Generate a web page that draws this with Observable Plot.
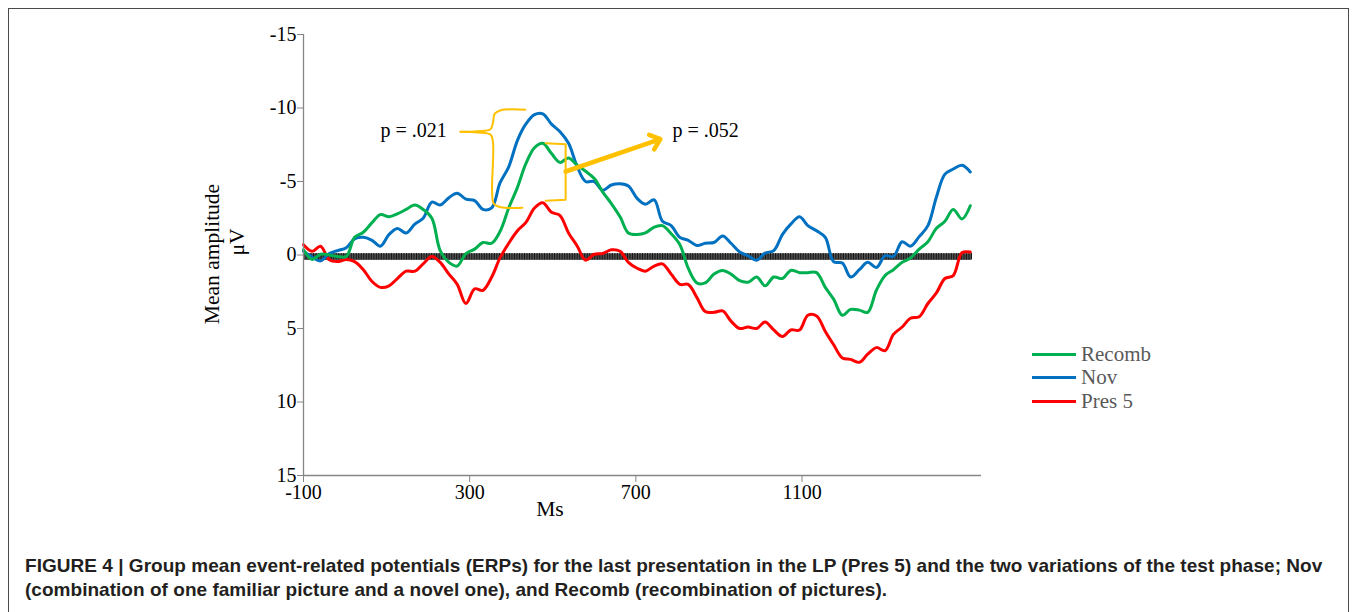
<!DOCTYPE html>
<html>
<head>
<meta charset="utf-8">
<script src="https://cdn.jsdelivr.net/npm/d3@7"></script>
<script src="https://cdn.jsdelivr.net/npm/@observablehq/plot@0.6"></script>
<style>
  html, body { margin: 0; padding: 0; background: #fff; }
  body { width: 1358px; height: 612px; overflow: hidden; position: relative; }
  #frame { position: absolute; left: 8px; top: 8px; width: 1341px; height: 640px; border: 1px solid #4a4a4a; box-sizing: border-box; }
  #chart { position: absolute; left: 0; top: 0; }
  .serif { font-family: "Liberation Serif", "Times New Roman", serif; color: #000; }
  .ylab { position: absolute; white-space: nowrap; font-size: 21.5px; transform: translate(-50%, -50%) rotate(-90deg); }
  #xlab { position: absolute; left: 550px; top: 509px; transform: translate(-50%, -50%); font-size: 21.5px; }
  #legend { position: absolute; left: 1032px; top: 343px; font-family: "Liberation Serif", serif; font-size: 21px; color: #595959; }
  .li { display: flex; align-items: center; height: 23.3px; }
  .sw { width: 44px; height: 3px; margin-right: 5px; }
  #caption { position: absolute; left: 25px; top: 554px; width: 1330px; white-space: nowrap; font-family: "Liberation Sans", Arial, sans-serif; font-weight: bold; font-size: 19px; letter-spacing: 0.03px; line-height: 24px; color: #231f20; }
</style>
</head>
<body>
<div id="frame"></div>
<div id="chart"></div>
<div class="serif ylab" style="left:212px; top:254px;">Mean amplitude</div>
<div class="serif ylab" style="left:237px; top:242px;">μV</div>
<div class="serif" id="xlab">Ms</div>
<div id="legend"></div>
<div id="caption">FIGURE 4 | Group mean event-related potentials (ERPs) for the last presentation in the LP (Pres 5) and the two variations of the test phase; Nov<br>(combination of one familiar picture and a novel one), and Recomb (recombination of pictures).</div>
<script>
// ---- data ----
const times = [-100,-79,-59,-38,-18,3,23,44,65,85,106,126,147,168,188,209,229,250,270,291,312,332,353,373,394,415,435,456,476,497,517,538,559,579,600,620,641,662,682,703,723,744,764,785,806,826,847,867,888,909,929,950,970,991,1011,1032,1053,1073,1094,1114,1135,1156,1176,1197,1217,1238,1258,1279,1300,1320,1341,1361,1382,1403,1423,1444,1464,1485,1505];

const recomb = [-0.35,0.3,-0.05,0.0,0.1,0.1,-1.2,-1.55,-2.2,-2.75,-2.6,-2.8,-3.1,-3.4,-3.1,-2.5,-0.3,0.5,0.75,-0.1,-0.4,-0.85,-0.8,-1.6,-3.2,-4.6,-6.2,-7.3,-7.6,-6.9,-6.3,-6.6,-6.1,-5.7,-5.2,-4.3,-3.5,-2.6,-1.5,-1.4,-1.5,-1.9,-2.0,-1.45,-0.7,0.9,1.9,1.9,1.3,1.05,1.3,1.75,1.85,1.5,2.1,1.5,1.6,1.05,1.2,1.2,1.2,2.2,3.0,4.1,3.7,3.75,3.9,2.4,1.4,1.0,0.5,0.2,-0.4,-0.9,-1.8,-2.3,-3.1,-2.45,-3.35];

const nov = [-0.25,0.15,0.4,-0.1,-0.3,-0.5,-1.1,-1.2,-1.0,-0.6,-1.4,-1.8,-1.5,-2.1,-2.5,-3.6,-3.4,-3.9,-4.2,-3.8,-3.7,-3.1,-3.2,-4.9,-6.0,-7.8,-8.9,-9.55,-9.6,-8.9,-8.4,-7.6,-6.0,-5.0,-5.0,-4.4,-4.76,-4.85,-4.7,-3.85,-3.45,-3.75,-2.3,-2.0,-1.2,-1.0,-0.65,-0.8,-0.85,-1.3,-0.8,-0.2,0.05,0.35,-0.13,-0.3,-1.4,-2.1,-2.6,-2.0,-1.65,-1.2,0.45,0.55,1.5,1.0,0.5,0.85,0.05,0.1,-0.9,-0.6,-1.25,-2.0,-3.9,-5.5,-5.85,-6.1,-5.65];

const pres5 = [-0.7,-0.25,-0.6,0.33,0.45,0.3,0.45,1.0,1.8,2.2,2.1,1.6,1.1,1.1,0.6,0.1,0.5,1.3,2.0,3.3,2.3,2.4,1.5,0.2,-0.8,-1.65,-2.2,-3.2,-3.55,-2.9,-2.7,-1.5,-0.6,0.35,-0.05,-0.1,-0.35,-0.25,0.5,0.9,1.1,0.75,0.6,1.3,2.0,2.0,2.9,3.85,3.9,3.8,4.5,5.0,4.9,5.0,4.55,5.1,5.55,5.1,5.1,4.1,4.15,5.2,6.1,7.0,7.1,7.3,6.75,6.3,6.5,5.4,4.9,4.3,4.2,3.3,2.6,1.6,1.4,-0.15,-0.2];

const seriesNames = ["Recomb", "Nov", "Pres 5"];
const seriesColors = ["#00B050", "#0070C0", "#FF0000"];

const yTicks = [-15, -10, -5, 0, 5, 10, 15];
const xTicks = [-100, 300, 700, 1100];

// zero reference series (one sample every 4 ms)
const zeroTimes = d3.range(-100, 1509, 4);

// annotations (ms, µV)
const braceX = [434, 375, 360, 356, 350, 320, 278, 278, 320, 350, 356, 354, 358, 375, 427];
const braceY = [-9.88, -9.85, -9.6, -9.0, -8.55, -8.42, -8.38, -8.38, -8.34, -8.2, -7.7, -4.3, -3.5, -3.25, -3.21];
const braceG = [0,0,0,0,0,0,0,1,1,1,1,1,1,1,1];
const bracketX = [483, 531, 531, 483];
const bracketY = [-7.61, -7.54, -3.76, -3.69];
const arrowFrom = [531, -5.68];
const arrowTo = [759, -7.88];
const labels = [{x: 165, y: -8.44, t: "p = .021"}, {x: 868, y: -8.44, t: "p = .052"}];

// ---- build ----
const allSeries = [recomb, nov, pres5];
const rows = [];
allSeries.forEach((vals, s) => vals.forEach((v, i) => rows.push({t: times[i], v, s: seriesNames[s]})));
const drawOrder = ["Pres 5", "Nov", "Recomb"];
const brace = braceX.map((x, i) => ({x, y: braceY[i], g: braceG[i]}));
const bracket = bracketX.map((x, i) => ({x, y: bracketY[i]}));
const gray = "#868686";

const chart = Plot.plot({
  width: 1358,
  height: 520,
  marginLeft: 303,
  marginRight: 377,
  marginTop: 34,
  marginBottom: 45,
  style: {fontFamily: "'Liberation Serif', 'Times New Roman', serif", fontSize: "20px", color: "#000", background: "transparent"},
  x: {domain: [-100, 1532]},
  y: {domain: [-15, 15], reverse: true},
  marks: [
    Plot.ruleY([0.12], {stroke: "#6e6e6e", strokeWidth: 6.6, x1: -100, x2: zeroTimes[zeroTimes.length - 1]}),
    Plot.ruleX(zeroTimes, {x: d => d, y1: -0.1, y2: 0.34, stroke: "#151515", strokeWidth: 1}),
    ...drawOrder.map(name => Plot.line(rows.filter(r => r.s === name), {
      x: "t", y: "v", stroke: seriesColors[seriesNames.indexOf(name)], strokeWidth: 3, curve: "catmull-rom"
    })),
    Plot.line(brace, {x: "x", y: "y", z: "g", stroke: "#FFC000", strokeWidth: 2, curve: "catmull-rom"}),
    Plot.line(bracket, {x: "x", y: "y", stroke: "#FFC000", strokeWidth: 2}),
    Plot.arrow([0], {x1: arrowFrom[0], y1: arrowFrom[1], x2: arrowTo[0], y2: arrowTo[1], stroke: "#FFC000", strokeWidth: 4.5, headLength: 4, headAngle: 80}),
    Plot.text(labels, {x: "x", y: "y", text: "t", fontSize: 20, fill: "#000"}),
    Plot.ruleX([-100], {stroke: gray, strokeWidth: 1.3}),
    Plot.ruleY([15], {stroke: gray, strokeWidth: 1.3}),
    Plot.axisY({ticks: yTicks, tickFormat: d => String(d), tickSize: 6, tickPadding: 1, stroke: gray, fill: "#000", label: null}),
    Plot.axisX({ticks: xTicks, tickFormat: d => String(d), tickSize: 7, tickPadding: 2, stroke: gray, fill: "#000", label: null})
  ]
});
document.getElementById("chart").appendChild(chart);

// legend
const legend = document.getElementById("legend");
seriesNames.forEach((n, i) => {
  const row = document.createElement("div");
  row.className = "li";
  row.innerHTML = `<span class="sw" style="background:${seriesColors[i]}"></span><span>${n}</span>`;
  legend.appendChild(row);
});
</script>
</body>
</html>
